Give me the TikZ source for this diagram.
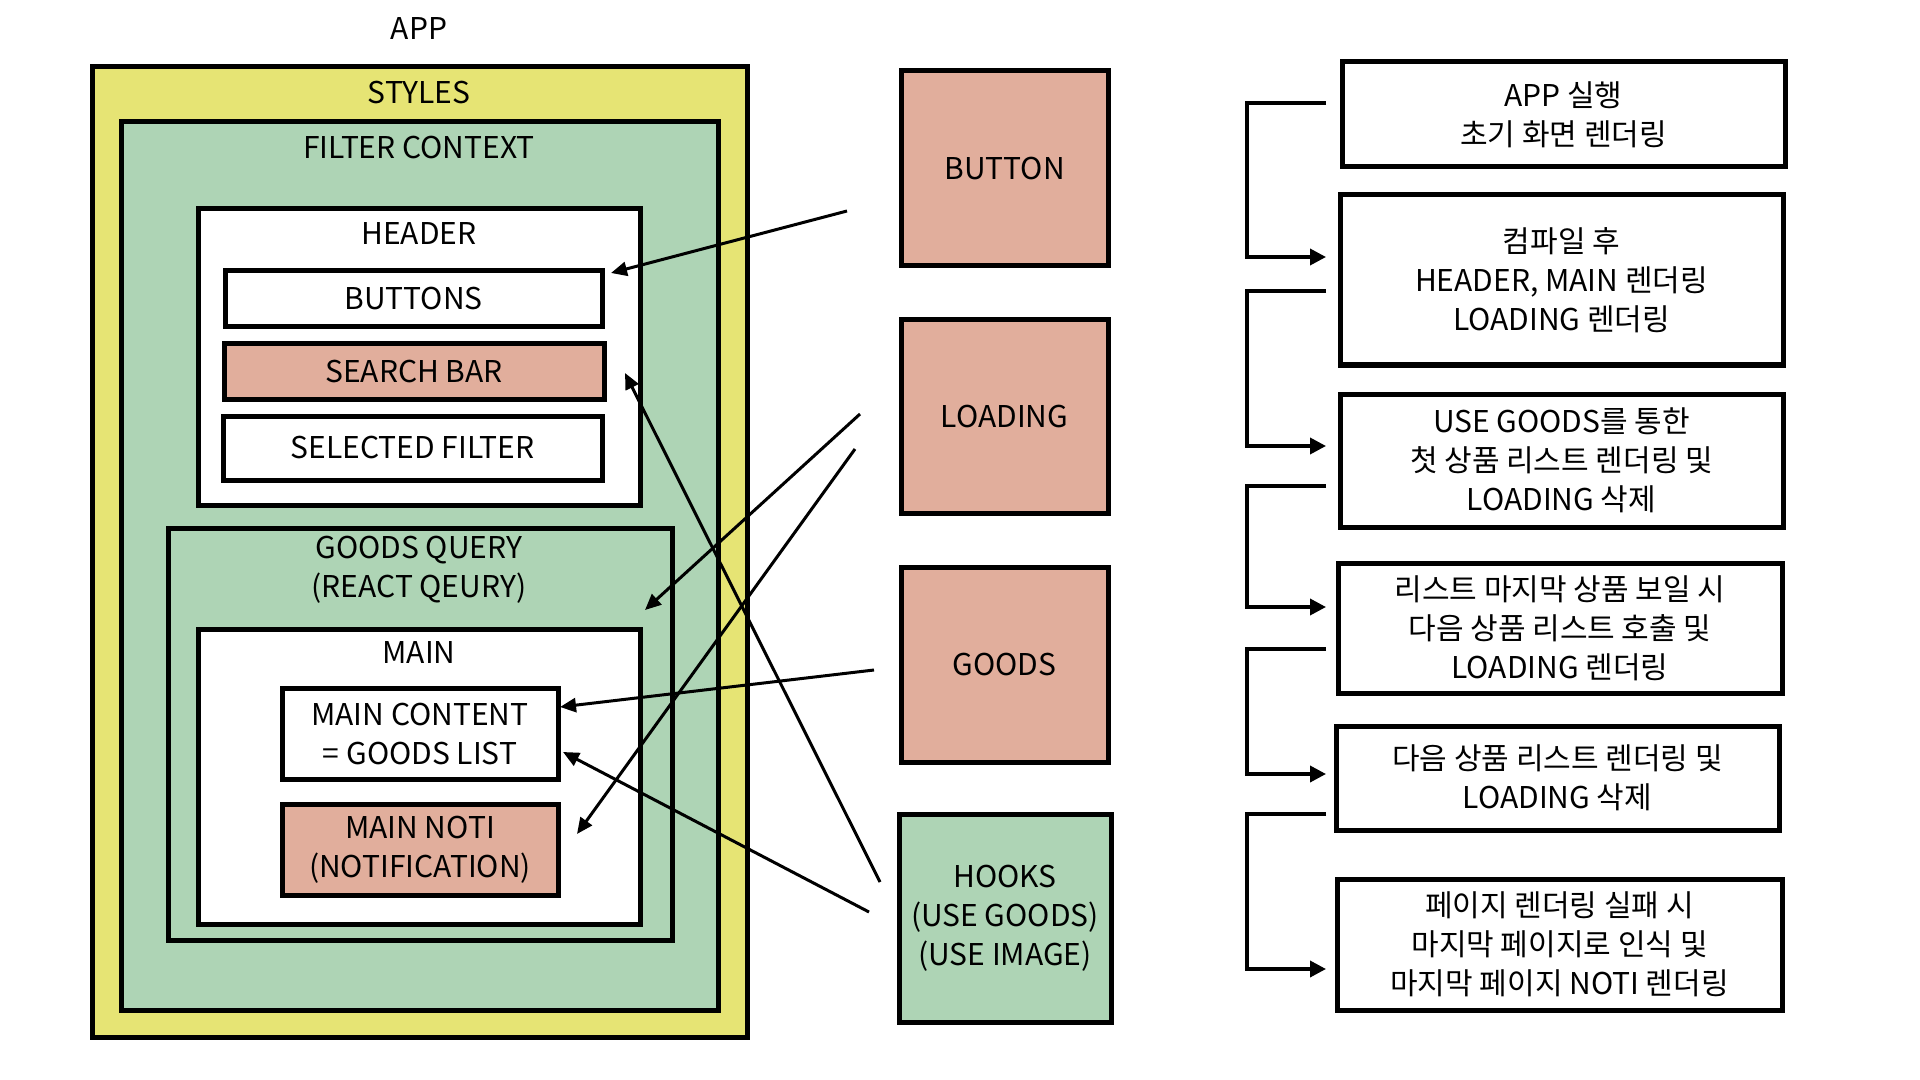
\documentclass[tikz,border=0pt]{standalone}
\usepackage{fontspec}
\setmainfont{Noto Sans CJK KR}
\usetikzlibrary{arrows.meta}
\definecolor{cyellow}{HTML}{E6E474}
\definecolor{cgreen}{HTML}{AED4B5}
\definecolor{csalmon}{HTML}{E1AE9C}
\begin{document}
\begin{tikzpicture}[x=0.5pt,y=-0.5pt,
  box/.style={draw=black, line width=2.5pt, rectangle, inner sep=0pt, align=center, font=\fontsize{15}{19.5}\selectfont},
  txt/.style={font=\fontsize{15}{19.5}\selectfont, align=center, inner sep=0pt},
  arr/.style={line width=1.5pt, -{Triangle[length=8pt,width=7pt]}},
  flow/.style={line width=1.8pt, -{Triangle[length=8pt,width=8pt]}}]
\useasboundingbox[fill=white] (0,0) rectangle (1920,1080);

% left nested structure
\node[txt] (apptxt) at (419,29) {APP};
\node[box, fill=cyellow, minimum width=327.5pt, minimum height=485pt] (styles) at (419.5,552) {};
\node[txt] (stylestxt) at (419,93) {STYLES};
\node[box, fill=cgreen, minimum width=298.5pt, minimum height=444pt] (filter) at (419.5,566) {};
\node[txt] (filtertxt) at (419,148) {FILTER CONTEXT};
\node[box, fill=white, minimum width=221pt, minimum height=148pt] (header) at (419,357) {};
\node[txt] (headertxt) at (419,234) {HEADER};
\node[box, fill=white, minimum width=188.5pt, minimum height=28pt] (buttons) at (413.5,299) {BUTTONS};
\node[box, fill=csalmon, minimum width=190pt, minimum height=27.5pt] (search) at (414,371.5) {SEARCH BAR};
\node[box, fill=white, minimum width=189.5pt, minimum height=32pt] (selected) at (412.5,448) {SELECTED FILTER};
\node[box, fill=cgreen, minimum width=252pt, minimum height=206pt] (gq) at (420,734) {};
\node[txt] (gqtxt) at (419,570) {GOODS QUERY\\(REACT QEURY)};
\node[box, fill=white, minimum width=221pt, minimum height=147.5pt] (main) at (419,776.5) {};
\node[txt] (maintxt) at (419,653) {MAIN};
\node[box, fill=white, minimum width=138pt, minimum height=45.5pt] (mc) at (420,733.5) {MAIN CONTENT\\= GOODS LIST};
\node[box, fill=csalmon, minimum width=138pt, minimum height=45.5pt] (mn) at (420,849.5) {MAIN NOTI\\(NOTIFICATION)};

% middle column
\node[box, fill=csalmon, minimum width=103.5pt, minimum height=97.5pt] (button) at (1004.5,168.5) {BUTTON};
\node[box, fill=csalmon, minimum width=103.5pt, minimum height=96.5pt] (loading) at (1004.5,416.5) {LOADING};
\node[box, fill=csalmon, minimum width=103.5pt, minimum height=97.5pt] (goods) at (1004.5,664.5) {GOODS};
\node[box, fill=cgreen, minimum width=106pt, minimum height=104pt] (hooks) at (1005,918) {HOOKS\\(USE GOODS)\\(USE IMAGE)};

% right column
\node[box, fill=white, minimum width=221.5pt, minimum height=52.5pt] (r1) at (1563.5,114.5) {APP 실행\\초기 화면 렌더링};
\node[box, fill=white, minimum width=221.5pt, minimum height=85pt] (r2) at (1561.5,280) {컴파일 후\\HEADER, MAIN 렌더링\\LOADING 렌더링};
\node[box, fill=white, minimum width=221.5pt, minimum height=66.5pt] (r3) at (1561.5,460.5) {USE GOODS를 통한\\첫 상품 리스트 렌더링 및\\LOADING 삭제};
\node[box, fill=white, minimum width=222pt, minimum height=65pt] (r4) at (1560,628) {리스트 마지막 상품 보일 시\\다음 상품 리스트 호출 및\\LOADING 렌더링};
\node[box, fill=white, minimum width=221.5pt, minimum height=52pt] (r5) at (1557.5,778) {다음 상품 리스트 렌더링 및\\LOADING 삭제};
\node[box, fill=white, minimum width=222.5pt, minimum height=65.5pt] (r6) at (1559.5,944.5) {페이지 렌더링 실패 시\\마지막 페이지로 인식 및\\마지막 페이지 NOTI 렌더링};

% flow brackets
\coordinate (f1s) at (1326,103); \coordinate (f1e) at (1326,257);
\coordinate (f2s) at (1326,291); \coordinate (f2e) at (1326,446);
\coordinate (f3s) at (1326,486); \coordinate (f3e) at (1326,607);
\coordinate (f4s) at (1326,649); \coordinate (f4e) at (1326,774);
\coordinate (f5s) at (1326,814); \coordinate (f5e) at (1326,969);
\foreach \i in {1,...,5}{
  \draw[flow] (f\i s) -- (1247,0 |- f\i s) |- (f\i e);
}

% component arrows
\coordinate (a1s) at (847,211); \coordinate (a1e) at (611,273);
\coordinate (a2s) at (860,414); \coordinate (a2e) at (645,610);
\coordinate (a3s) at (855,449); \coordinate (a3e) at (577,834);
\coordinate (a4s) at (874,670); \coordinate (a4e) at (560,707);
\coordinate (a5s) at (880,882); \coordinate (a5e) at (625,373);
\coordinate (a6s) at (869,912); \coordinate (a6e) at (563,752);
\foreach \i in {1,...,6}{
  \draw[arr] (a\i s) -- (a\i e);
}
\end{tikzpicture}
\end{document}
